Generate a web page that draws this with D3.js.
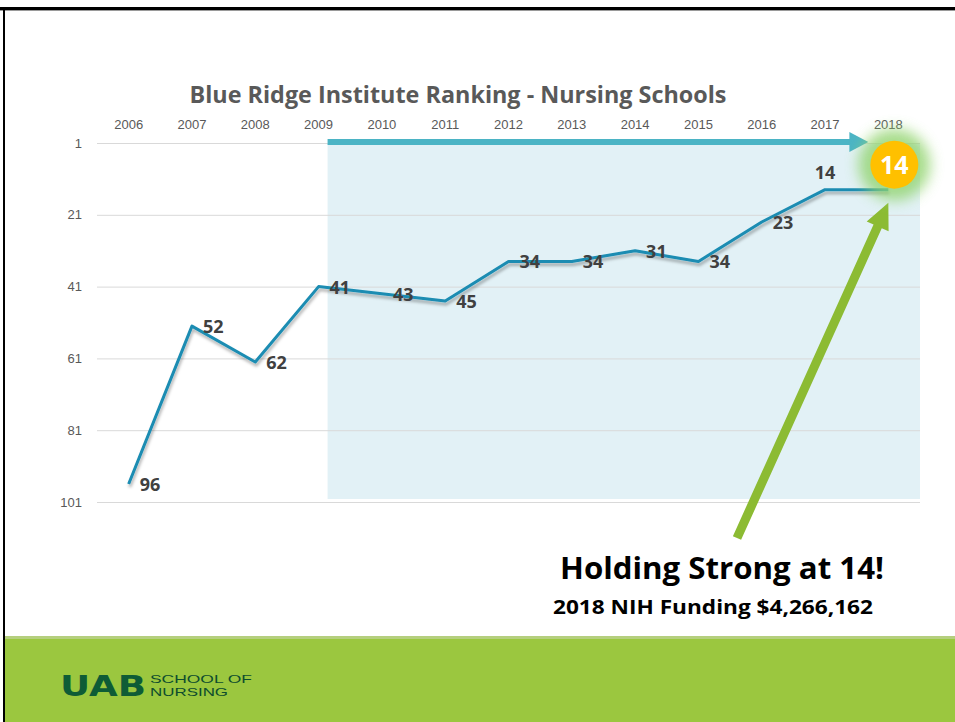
<!DOCTYPE html>
<html>
<head>
<meta charset="utf-8">
<script src="https://cdn.jsdelivr.net/npm/d3@7"></script>
<style>
  body { margin: 0; background: #fff; }
  svg { display: block; font-family: "Open Sans", "Liberation Sans", sans-serif; }
</style>
</head>
<body>
<div id="chart-area"></div>
<script>
var years = ["2006", "2007", "2008", "2009", "2010", "2011", "2012", "2013", "2014", "2015", "2016", "2017", "2018"];
var ranks = [96, 52, 62, 41, 43, 45, 34, 34, 31, 34, 23, 14, 14];
var rankTicks = [1, 21, 41, 61, 81, 101];
var chartTitle = "Blue Ridge Institute Ranking - Nursing Schools";
var headline = "Holding Strong at 14!";
var subline = "2018 NIH Funding $4,266,162";

var W = 955, H = 722;
var margin = { left: 97, right: 35, top: 143, bottom: 219 };
var width = W - margin.left - margin.right;
var height = H - margin.top - margin.bottom;

var svg = d3.select("#chart-area").append("svg")
    .attr("width", W)
    .attr("height", H);

var defs = svg.append("defs");
var shadow = defs.append("filter").attr("id", "shadow")
    .attr("x", "-10%").attr("y", "-10%").attr("width", "120%").attr("height", "140%");
shadow.append("feDropShadow")
    .attr("dx", 1).attr("dy", 3).attr("stdDeviation", 1.5)
    .attr("flood-color", "#000").attr("flood-opacity", 0.3);
var glow = defs.append("filter").attr("id", "glow")
    .attr("x", "-60%").attr("y", "-60%").attr("width", "220%").attr("height", "220%");
glow.append("feGaussianBlur").attr("stdDeviation", 7);

// slide frame
svg.append("rect").attr("x", 0).attr("y", 7).attr("width", W).attr("height", 3).attr("fill", "#000");
svg.append("rect").attr("x", 0).attr("y", 10).attr("width", W).attr("height", 1).attr("fill", "#9a9a9a");
svg.append("rect").attr("x", 3).attr("y", 7).attr("width", 2).attr("height", H - 7).attr("fill", "#000");

var g = svg.append("g")
    .attr("transform", "translate(" + margin.left + ", " + margin.top + ")");

var x = d3.scaleBand()
    .domain(years)
    .range([0, width]);
var xc = (d) => x(d) + x.bandwidth() / 2;
var y = d3.scaleLinear()
    .domain([1, 101])
    .range([0, height - 1]);

// highlighted period
var shadeLeft = xc("2009") + 9;
g.append("rect")
    .attr("x", shadeLeft)
    .attr("y", y(1))
    .attr("width", width - shadeLeft)
    .attr("height", y(101) - y(1) - 3)
    .attr("fill", "#e2f1f6");

// y gridlines + labels
var yAxis = d3.axisLeft(y)
    .tickValues(rankTicks)
    .tickSize(-width)
    .tickPadding(15);
var yaxg = g.append("g").attr("class", "y-axis").call(yAxis);
yaxg.select(".domain").remove();
yaxg.selectAll(".tick line").attr("stroke", "#d9d9d9");
yaxg.selectAll(".tick text")
    .attr("fill", "#595959")
    .attr("font-size", "13px");

// x labels on top
var xAxis = d3.axisTop(x).tickSize(0).tickPadding(14);
var xaxg = g.append("g").attr("class", "x-axis").call(xAxis);
xaxg.select(".domain").remove();
xaxg.selectAll(".tick text")
    .attr("fill", "#595959")
    .attr("font-size", "13px");

// title
svg.append("text")
    .attr("x", 458)
    .attr("y", 103)
    .attr("text-anchor", "middle")
    .attr("font-size", "23px")
    .attr("font-weight", "bold")
    .attr("fill", "#595959")
    .attr("textLength", 537)
    .attr("lengthAdjust", "spacingAndGlyphs")
    .text(chartTitle);

// teal arrow across top
var arrowY = y(1) - 1;
var arrowEnd = xc("2018") - 20;
g.append("rect")
    .attr("x", shadeLeft)
    .attr("y", arrowY - 3)
    .attr("width", arrowEnd - 18 - shadeLeft)
    .attr("height", 6)
    .attr("fill", "#4bb4c5");
g.append("path")
    .attr("d", "M" + (arrowEnd - 19) + "," + (arrowY - 10) + "L" + arrowEnd + "," + arrowY + "L" + (arrowEnd - 19) + "," + (arrowY + 10) + "Z")
    .attr("fill", "#4bb4c5");

// ranking line
var line = d3.line()
    .x((d, i) => xc(years[i]))
    .y((d) => y(d));
g.append("path")
    .datum(ranks)
    .attr("d", line)
    .attr("fill", "none")
    .attr("stroke", "#1a8cb2")
    .attr("stroke-width", 3)
    .attr("stroke-linejoin", "round")
    .attr("filter", "url(#shadow)");

// value labels
var last = ranks.length - 1;
g.selectAll(".val").data(ranks.slice(0, last)).enter().append("text")
    .attr("class", "val")
    .attr("x", (d, i) => i === last - 1 ? xc(years[i]) : xc(years[i]) + 11)
    .attr("y", (d, i) => i === last - 1 ? y(d) - 11 : y(d) + 7)
    .attr("text-anchor", (d, i) => i === last - 1 ? "middle" : "start")
    .attr("font-size", "18px")
    .attr("font-weight", "bold")
    .attr("fill", "#404040")
    .text((d) => d);

// green pointer arrow
var tipX = xc("2018"), tipY = y(ranks[last]) + 13;
var baseX = 737 - margin.left, baseY = 538 - margin.top;
var ang = Math.atan2(tipY - baseY, tipX - baseX);
var ux = Math.cos(ang), uy = Math.sin(ang), px = -uy, py = ux;
var headLen = 26, headW = 12, shaftW = 4.5;
var hx = tipX - ux * headLen, hy = tipY - uy * headLen;
var pts = [
    [baseX + px * shaftW, baseY + py * shaftW],
    [hx + px * shaftW, hy + py * shaftW],
    [hx + px * headW, hy + py * headW],
    [tipX, tipY],
    [hx - px * headW, hy - py * headW],
    [hx - px * shaftW, hy - py * shaftW],
    [baseX - px * shaftW, baseY - py * shaftW]
];
g.append("path")
    .attr("d", "M" + pts.map((p) => p.join(",")).join("L") + "Z")
    .attr("fill", "#8cbb33");

// badge for latest year
var bx = xc("2018") + 6, by = y(ranks[last]) - 25;
g.append("circle")
    .attr("cx", bx).attr("cy", by).attr("r", 36)
    .attr("fill", "#92d46e").attr("opacity", 0.8)
    .attr("filter", "url(#glow)");
g.append("circle")
    .attr("cx", bx).attr("cy", by).attr("r", 24)
    .attr("fill", "#ffc000");
g.append("text")
    .attr("x", bx).attr("y", by + 9)
    .attr("text-anchor", "middle")
    .attr("font-size", "25px")
    .attr("font-weight", "bold")
    .attr("fill", "#fff")
    .text(ranks[last]);

// callout text
svg.append("text")
    .attr("x", 560).attr("y", 579)
    .attr("font-size", "30px")
    .attr("font-weight", "bold")
    .attr("fill", "#000")
    .attr("textLength", 324)
    .attr("lengthAdjust", "spacingAndGlyphs")
    .text(headline);
svg.append("text")
    .attr("x", 553).attr("y", 614)
    .attr("font-size", "19px")
    .attr("font-weight", "bold")
    .attr("fill", "#000")
    .attr("textLength", 320)
    .attr("lengthAdjust", "spacingAndGlyphs")
    .text(subline);

// footer band
svg.append("rect").attr("x", 5).attr("y", 636).attr("width", W - 5).attr("height", 3).attr("fill", "#b5cf7e");
svg.append("rect").attr("x", 5).attr("y", 639).attr("width", W - 5).attr("height", H - 639).attr("fill", "#9bc73f");

var logo = svg.append("g").attr("transform", "translate(60, 696)");
logo.append("text")
    .attr("x", 0).attr("y", 0)
    .attr("font-family", "'DejaVu Sans', sans-serif")
    .attr("font-size", "28px")
    .attr("font-weight", "bold")
    .attr("fill", "#0e5c36")
    .attr("textLength", 86)
    .attr("lengthAdjust", "spacingAndGlyphs")
    .text("UAB");
logo.append("text")
    .attr("x", 90).attr("y", -13)
    .attr("font-family", "'Liberation Sans', sans-serif")
    .attr("font-size", "11.5px")
    .attr("fill", "#0e4d2e")
    .attr("textLength", 102)
    .attr("lengthAdjust", "spacingAndGlyphs")
    .text("SCHOOL OF");
logo.append("text")
    .attr("x", 90).attr("y", 0)
    .attr("font-family", "'Liberation Sans', sans-serif")
    .attr("font-size", "11.5px")
    .attr("fill", "#0e4d2e")
    .attr("textLength", 78)
    .attr("lengthAdjust", "spacingAndGlyphs")
    .text("NURSING");
</script>
</body>
</html>
